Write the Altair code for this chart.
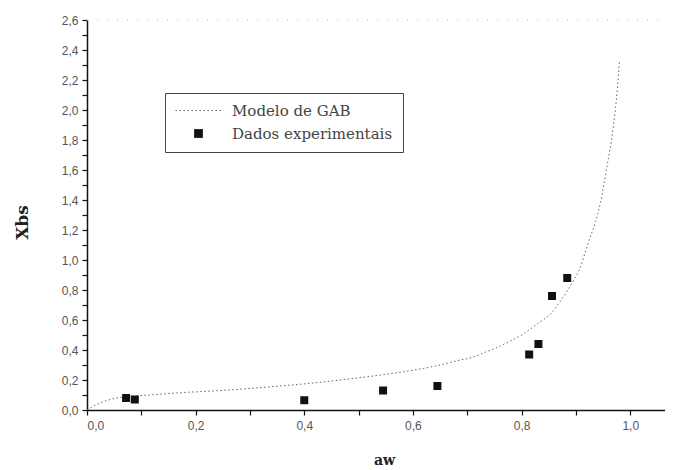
import altair as alt
import pandas as pd

# GAB model curve
curve_aw = [0.0, 0.024, 0.046, 0.07, 0.116, 0.17, 0.232, 0.294, 0.355, 0.417, 0.478,
            0.54, 0.60, 0.65, 0.687, 0.711, 0.733, 0.757, 0.779, 0.80, 0.831, 0.856,
            0.874, 0.895, 0.908, 0.917, 0.926, 0.936, 0.945, 0.957, 0.969, 0.976, 0.98]
curve_x = [0.0, 0.047, 0.073, 0.088, 0.10, 0.115, 0.127, 0.142, 0.16, 0.18, 0.205,
           0.233, 0.265, 0.30, 0.333, 0.353, 0.385, 0.42, 0.46, 0.50, 0.58, 0.65,
           0.74, 0.86, 0.95, 1.05, 1.15, 1.25, 1.38, 1.62, 1.89, 2.13, 2.32]

# experimental data
exp_aw = [0.072, 0.088, 0.40, 0.545, 0.645, 0.814, 0.831, 0.856, 0.884]
exp_x = [0.08, 0.07, 0.065, 0.13, 0.16, 0.37, 0.44, 0.76, 0.88]

SERIES = ["Modelo de GAB", "Dados experimentais"]
X_TICKS = [round(i * 0.1, 1) for i in range(11)]
Y_TICKS = [round(i * 0.1, 1) for i in range(27)]
X_MAX = 1.064
Y_MAX = 2.6

curve_df = pd.DataFrame({"aw": curve_aw, "X": curve_x, "serie": SERIES[0]})
exp_df = pd.DataFrame({"aw": exp_aw, "X": exp_x, "serie": SERIES[1]})

W, H = 578, 390

x_axis = alt.Axis(
    values=X_TICKS,
    labelExpr="round(datum.value*10) % 2 == 0 ? replace(format(datum.value, '.1f'), '.', ',') : ''",
    labelOverlap=False,
    title="aw", titleX=297, titleY=50, titleBaseline="middle",
    titleFont="DejaVu Serif", titleFontSize=14, titleFontWeight="bold", titleColor="#222",
    labelFont="Liberation Sans", labelFontSize=12, labelColor="#555",
    tickSize=5, domainWidth=1.5, tickWidth=1.2, domainColor="#111", tickColor="#111",
    labelPadding=5, grid=False,
)
y_axis = alt.Axis(
    values=Y_TICKS,
    labelExpr="round(datum.value*10) % 2 == 0 ? replace(format(datum.value, '.1f'), '.', ',') : ''",
    labelOverlap=False,
    title="Xbs", titleX=-65, titleY=202, titleBaseline="middle", titleAngle=-90,
    titleFont="DejaVu Serif", titleFontSize=17, titleFontWeight="bold", titleColor="#222",
    labelFont="Liberation Sans", labelFontSize=12, labelColor="#555",
    tickSize=5, domainWidth=1.5, tickWidth=1.2, domainColor="#111", tickColor="#111",
    labelPadding=4, grid=False,
)

xs = alt.Scale(domain=[0, X_MAX], nice=False, zero=False)
ys = alt.Scale(domain=[0, Y_MAX], nice=False, zero=False)

color = alt.Color("serie:N", scale=alt.Scale(domain=SERIES, range=["#666666", "#111111"]),
                  legend=alt.Legend(title=None))
dash = alt.StrokeDash("serie:N", scale=alt.Scale(domain=SERIES, range=[[1.5, 2.5], [1, 0]]),
                      legend=alt.Legend(title=None))
shape = alt.Shape("serie:N", scale=alt.Scale(domain=SERIES, range=["M-5.75,0L6.25,0", "square"]),
                  legend=alt.Legend(title=None))

line = alt.Chart(curve_df).mark_line(strokeWidth=1, interpolate="monotone").encode(
    x=alt.X("aw:Q", scale=xs, axis=x_axis),
    y=alt.Y("X:Q", scale=ys, axis=y_axis),
    color=color,
    strokeDash=dash,
)

pts = alt.Chart(exp_df).mark_point(filled=True, size=64, opacity=1).encode(
    x=alt.X("aw:Q", scale=xs, axis=x_axis),
    y=alt.Y("X:Q", scale=ys, axis=y_axis),
    color=color,
    shape=shape,
)

top = alt.Chart(pd.DataFrame({"y": [Y_MAX]})).mark_rule(
    color="#bbbbbb", strokeDash=[1, 9], strokeWidth=1
).encode(y=alt.Y("y:Q", scale=ys, axis=y_axis), x=alt.value(0), x2=alt.value(W))

chart = alt.layer(line, pts, top).properties(
    width=W, height=H,
    autosize=alt.AutoSizeParams(type="none"),
    padding={"left": 79, "top": 12, "right": 0, "bottom": 60},
).configure_view(stroke=None).configure_axis(labelOverlap=False).configure_legend(
    orient="none", legendX=78, legendY=73,
    strokeColor="#444", strokeWidth=1, padding=10,
    labelFont="DejaVu Serif", labelFontSize=15, labelColor="#444", labelLimit=400,
    symbolSize=64, symbolOffset=16, labelOffset=26, rowPadding=7,
    symbolStrokeWidth=1,
)

chart.save("out.html", embed_options={"renderer": "svg", "actions": False})
